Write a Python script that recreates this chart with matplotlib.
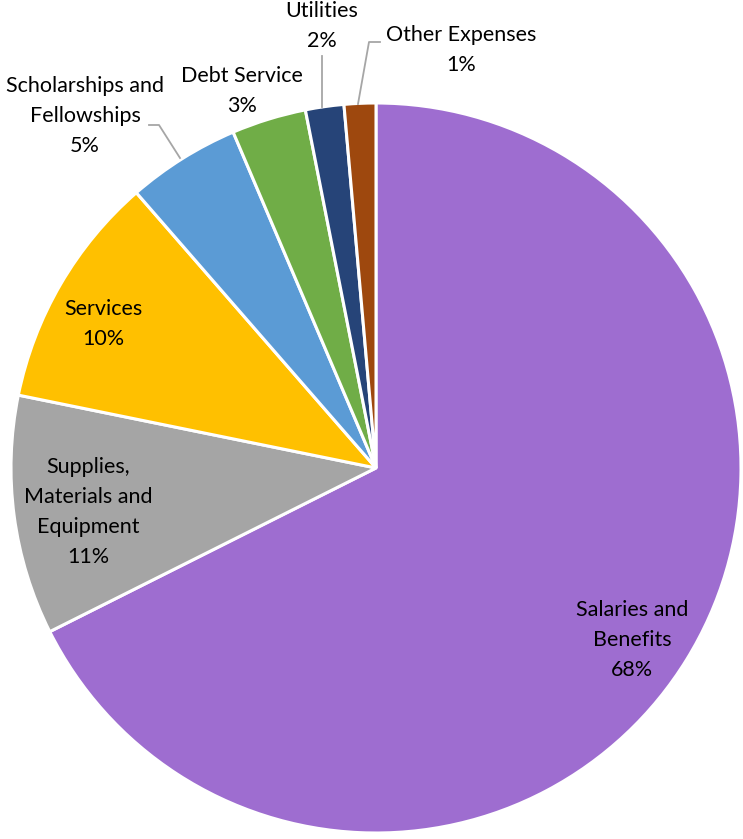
import numpy as np
import matplotlib
matplotlib.use('Agg')
import matplotlib.pyplot as plt

plt.rcParams['font.family'] = ['Lato', 'DejaVu Sans']

# expense categories, share of total (percent)
categories = ['Salaries and\nBenefits', 'Supplies,\nMaterials and\nEquipment', 'Services',
              'Scholarships and\nFellowships', 'Debt Service', 'Utilities', 'Other Expenses']
shares = [67.6, 10.6, 10.4, 5.0, 3.3, 1.7, 1.4]
colors = ['#9E6DD0', '#A5A5A5', '#FFC000', '#5B9BD5', '#70AD47', '#264478', '#9E480E']

W, H = 743, 839
def px(x, y):
    return (x, H - y)

# label centres and leader lines, in pixels from top-left
label_pos = [(632, 640), (88, 512), (103, 324), (85, 116), (242, 91), (322, 26), (461, 50)]
leaders = {3: [(180, 158), (159, 125), (149, 125)],
           5: [(322, 107), (322, 56)],
           6: [(358, 104), (369, 42), (380, 42)]}

fig = plt.figure(figsize=(W / 100, H / 100), dpi=100)
ax = fig.add_axes([0, 0, 1, 1])

ax.pie(shares, colors=colors, startangle=90, counterclock=False,
       center=px(376, 468), radius=365, frame=True,
       wedgeprops=dict(edgecolor='white', linewidth=2.2))
ax.set_xlim(0, W)
ax.set_ylim(0, H)
ax.set_aspect('equal')
ax.axis('off')

for i, (cat, val) in enumerate(zip(categories, shares)):
    x, y = px(*label_pos[i])
    ax.text(x, y, cat + '\n' + '{:.0f}%'.format(val), ha='center', va='center',
            fontsize=15.5, color='#000000', linespacing=1.62)

for pts in leaders.values():
    xs = [p[0] for p in pts]
    ys = [H - p[1] for p in pts]
    ax.plot(xs, ys, color='#A6A6A6', lw=1.3)

fig.savefig('out.png', dpi=100)
